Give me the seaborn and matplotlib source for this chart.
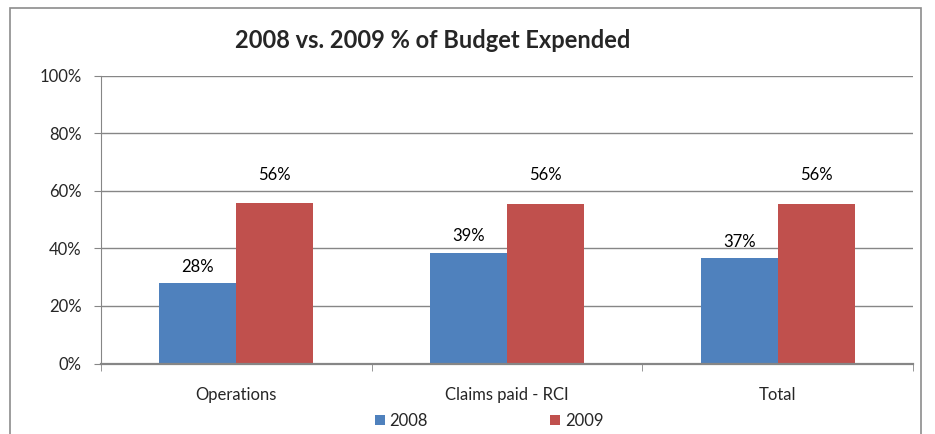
import numpy as np
import pandas as pd
import matplotlib
matplotlib.use("Agg")
import matplotlib.pyplot as plt
from matplotlib.patches import Rectangle, Patch
from matplotlib.ticker import PercentFormatter
import seaborn as sns

sns.set_style("white")
plt.rcParams['font.family'] = ['Lato', 'DejaVu Sans']

categories = ["Operations", "Claims paid - RCI", "Total"]
years = ["2008", "2009"]
pct_2008 = [0.279, 0.386, 0.366]
pct_2009 = [0.557, 0.556, 0.556]
colors = ["#4F81BD", "#C0504D"]
grid_col = "#868686"

df = pd.DataFrame({
    "category": categories * 2,
    "year": [years[0]] * 3 + [years[1]] * 3,
    "pct": pct_2008 + pct_2009,
})

fig = plt.figure(figsize=(9.35, 4.34), dpi=100)
ax = fig.add_axes([101 / 935, 1 - 363.5 / 434, (913 - 101) / 935, (363.5 - 76) / 434])

sns.barplot(data=df, x="category", y="pct", hue="year", order=categories,
            hue_order=years, palette=colors, width=0.57, saturation=1,
            edgecolor="none", legend=False, ax=ax)

# data labels (excel put the 2009 ones a bit higher)
for cont, pad in zip(ax.containers, [6, 15]):
    ax.bar_label(cont, labels=[f"{v:.0%}" for v in cont.datavalues],
                 padding=pad, fontsize=12, color="black")

ax.set_ylim(0, 1)
ax.set_xlim(-0.5, 2.5)
ax.set_yticks(np.arange(0, 1.01, 0.2))
ax.yaxis.set_major_formatter(PercentFormatter(1.0, decimals=0))
ax.yaxis.grid(True, color=grid_col, linewidth=1)
ax.set_axisbelow(True)
ax.set_xlabel("")
ax.set_ylabel("")

for s in ["top", "right"]:
    ax.spines[s].set_visible(False)
ax.spines["left"].set_color(grid_col)
ax.spines["bottom"].set_color(grid_col)
ax.spines["bottom"].set_linewidth(1.6)

ax.tick_params(axis="y", left=True, length=5, color=grid_col, pad=9, labelsize=12)
ax.tick_params(axis="x", which="major", length=0, pad=17, labelsize=12)
ax.set_xticks([-0.5, 0.5, 1.5, 2.5], minor=True)
ax.tick_params(axis="x", which="minor", bottom=True, length=5, color=grid_col)

fig.text(433 / 935, 1 - 40 / 434, "2008 vs. 2009 % of Budget Expended",
         ha="center", va="center", fontsize=17, fontweight="bold")

handles = [Patch(facecolor=c, edgecolor="none") for c in colors]
fig.legend(handles, years, loc="center", bbox_to_anchor=(489 / 935, 1 - 421 / 434),
           ncol=2, frameon=False, fontsize=12, handlelength=0.6, handleheight=0.6,
           handletextpad=0.3, columnspacing=7.3, borderpad=0)

fig.patches.append(Rectangle((10 / 935, -0.1), (921 - 10) / 935, 1.1 - 8 / 434,
                             transform=fig.transFigure, fill=False,
                             edgecolor="#8c8c8c", linewidth=1.2))

fig.savefig("out.png", dpi=100)
